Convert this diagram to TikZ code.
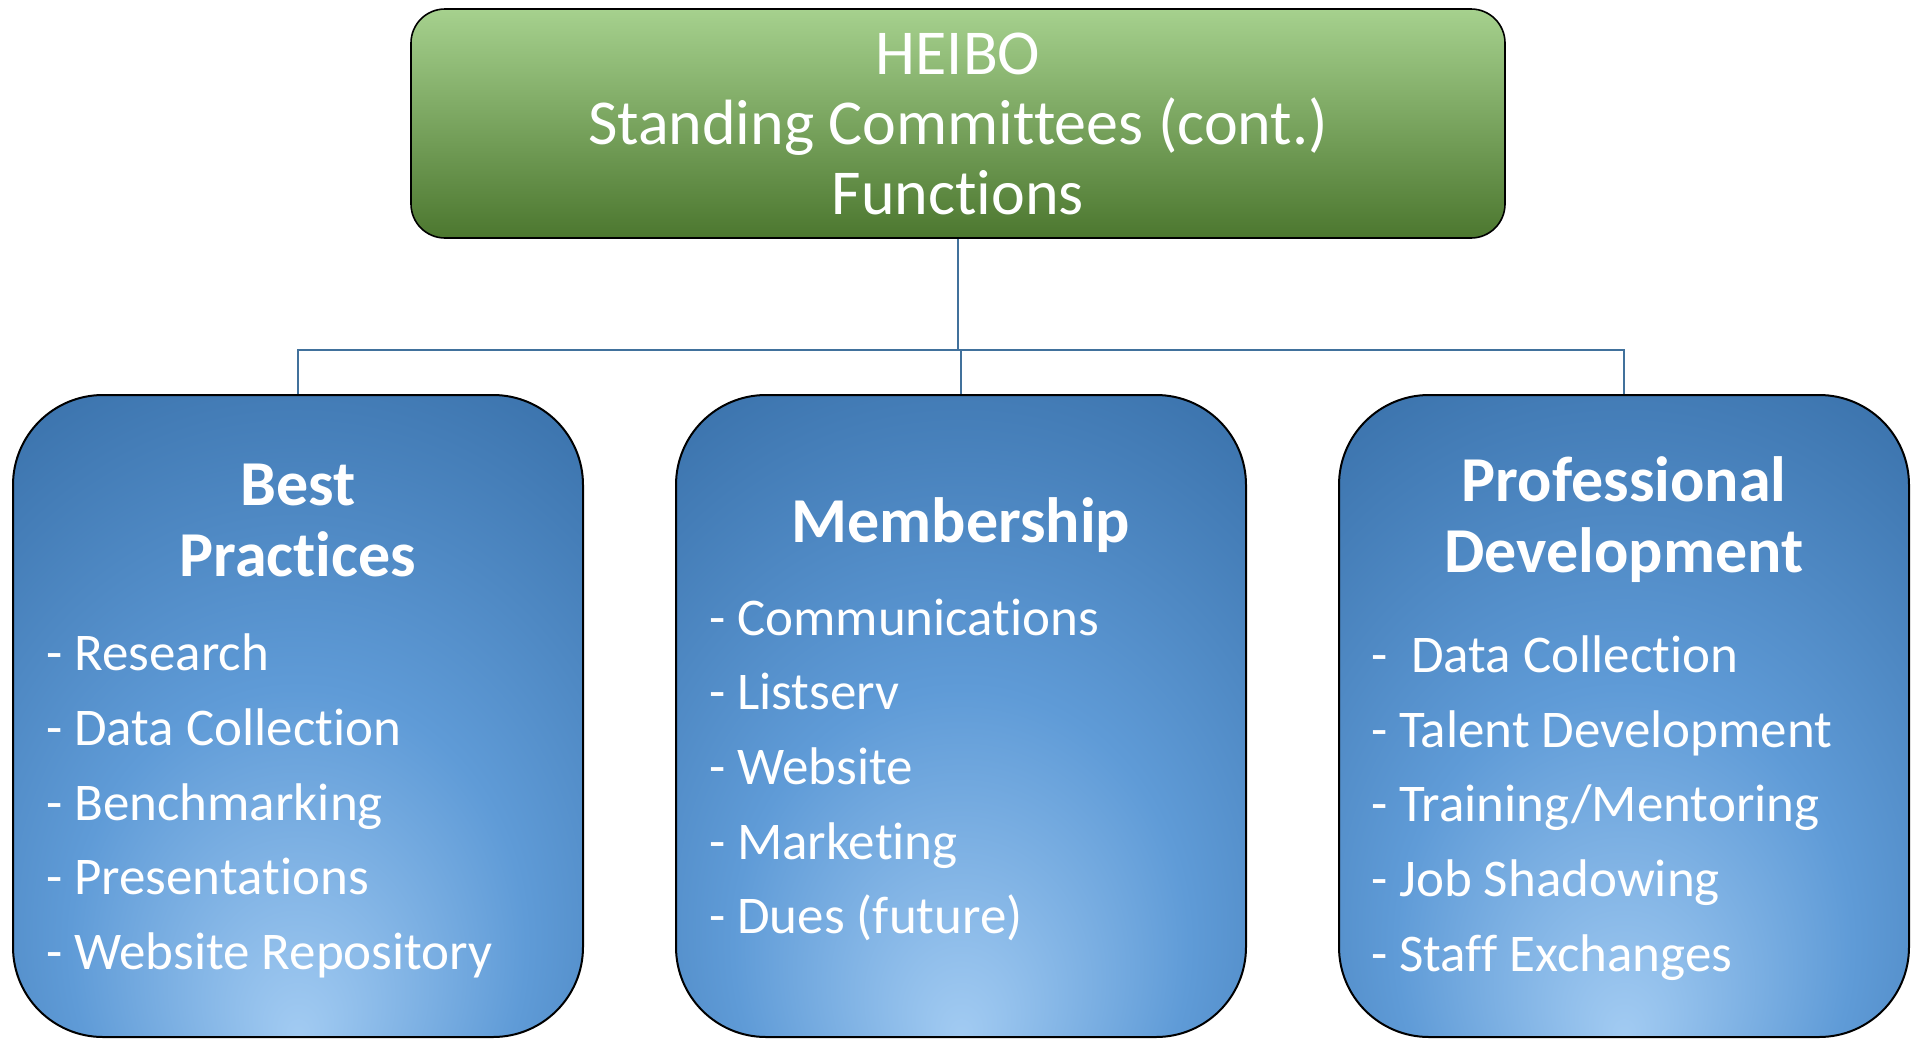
\documentclass[tikz,border=0pt]{standalone}
\usepackage{fontspec}
\setmainfont{Carlito}[Ligatures={NoCommon,NoRequired,NoContextual,NoRare}]
\usetikzlibrary{positioning}
\definecolor{linkblue}{RGB}{65,113,156}
\definecolor{greentop}{RGB}{166,209,142}
\definecolor{greenmid}{RGB}{118,178,68}
\definecolor{greenbot}{RGB}{76,119,47}
\definecolor{bluedark}{RGB}{52,107,164}
\definecolor{bluemid}{RGB}{95,155,215}
\definecolor{bluelight}{RGB}{162,203,242}
\pgfdeclareradialshading{blueglow}{\pgfpoint{0bp}{-25bp}}{color(0bp)=(bluelight); color(20bp)=(bluemid); color(46bp)=(bluedark); color(70bp)=(bluedark)}

\begin{document}
\begin{tikzpicture}[x=0.5pt,y=-0.5pt,every node/.append style={align=center,text=white},
    head/.style={draw=black, line width=0.8pt, rounded corners=17pt, minimum width=547pt, minimum height=114.5pt, top color=greentop, middle color=greenmid, bottom color=greenbot, font=\fontsize{32}{35}\selectfont},
    com/.style={draw=black, line width=1pt, rounded corners=45pt, minimum width=285pt, minimum height=321pt, shade, shading=blueglow},
    title/.style={font=\bfseries\fontsize{32}{35.5}\selectfont},
    lst/.style={anchor=west, align=left, font=\fontsize{26.5}{37.3}\selectfont},
    link/.style={draw=linkblue, line width=1.25pt}]
        \useasboundingbox (0,0) rectangle (1917,1039);

        \node [head] (heibo) at (958,123.5) {HEIBO\\Standing Committees (cont.)\\Functions};

        \node [com] (best) at (298,716) {};
        \node [com] (memb) at (961,716) {};
        \node [com] (prof) at (1624,716) {};

        \node [title] (bestT) at (298,520) {Best\\Practices};
        \node [title] (membT) at (961,525) {Membership};
        \node [title] (profT) at (1624,520) {Professional\\Development};

        \node [lst] (bestL) at (39,806) {- Research\\- Data Collection\\- Benchmarking\\- Presentations\\- Website Repository};
        \node [lst] (membL) at (702,770) {- Communications\\- Listserv\\- Website\\- Marketing\\- Dues (future)};
        \node [lst] (profL) at (1364,808) {-~ Data Collection\\- Talent Development\\- Training/Mentoring\\- Job Shadowing\\- Staff Exchanges};

        \coordinate (bus) at (958,350);
        \draw [link] (heibo) -- (bus) -| (best);
        \draw [link] (bus) -| (memb);
        \draw [link] (bus) -| (prof);
    \end{tikzpicture}
\end{document}
